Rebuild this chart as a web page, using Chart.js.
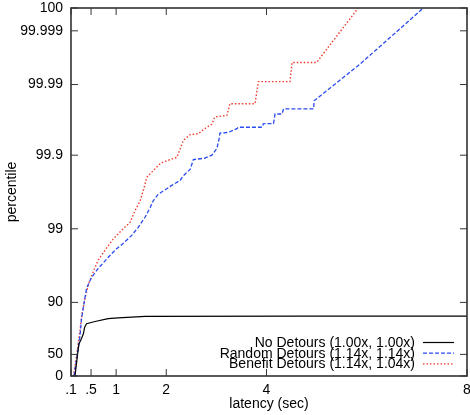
<!DOCTYPE html>
<html>
<head>
<meta charset="utf-8">
<script src="https://cdn.jsdelivr.net/npm/chart.js@4/dist/chart.umd.min.js"></script>
<style>
    html, body { margin: 0; padding: 0; background: #fff; }
    #wrap { width: 470px; height: 415px; }
</style>
</head>
<body>
<div id="wrap"><canvas id="myChart" width="470" height="415"></canvas></div>
<script>
// latency in seconds, percentile in "nines" position units
const noDetoursX = [0.18, 0.234, 0.26, 0.31, 0.35, 0.37, 0.41, 0.58, 0.84, 1.04, 1.58, 4.67, 8.0];
const noDetoursY = [0, 0.31, 0.44, 0.51, 0.58, 0.66, 0.71, 0.74, 0.78, 0.79, 0.81, 0.813, 0.814];

const randomX = [0.16, 0.23, 0.28, 0.31, 0.36, 0.41, 0.51, 0.64, 0.84, 1.01, 1.14, 1.31, 1.44, 1.58, 1.68, 1.74,
    1.84, 1.98, 2.11, 2.28, 2.34, 2.48, 2.54, 2.77, 2.91, 3.01, 3.06, 3.07, 3.24, 3.41, 3.44, 3.91, 3.94,
    4.14, 4.17, 4.31, 4.34, 4.94, 4.95, 5.87, 7.13];
const randomY = [0, 0.31, 0.55, 0.78, 0.99, 1.19, 1.34, 1.46, 1.61, 1.73, 1.80, 1.91, 2.02, 2.16, 2.29, 2.38,
    2.47, 2.53, 2.59, 2.66, 2.72, 2.81, 2.94, 2.96, 3.00, 3.09, 3.24, 3.30, 3.31, 3.36, 3.38, 3.38, 3.43,
    3.43, 3.56, 3.56, 3.63, 3.63, 3.74, 4.24, 5.0];

const benefitX = [0.15, 0.22, 0.25, 0.28, 0.31, 0.37, 0.45, 0.55, 0.64, 0.78, 0.94, 1.11, 1.28, 1.38, 1.48, 1.56,
    1.61, 1.71, 1.84, 1.91, 2.08, 2.21, 2.28, 2.34, 2.48, 2.64, 2.71, 2.81, 2.91, 2.97, 3.21, 3.27, 3.77,
    3.84, 4.47, 4.51, 5.00, 5.83];
const benefitY = [0, 0.32, 0.48, 0.62, 0.80, 1.03, 1.25, 1.43, 1.57, 1.71, 1.86, 1.98, 2.09, 2.25, 2.38, 2.56,
    2.70, 2.77, 2.86, 2.90, 2.94, 2.97, 3.09, 3.20, 3.28, 3.29, 3.33, 3.38, 3.42, 3.52, 3.54, 3.70, 3.70,
    4.00, 4.00, 4.26, 4.26, 5.0];

const xTickPos = [0.1, 0.5, 1, 2, 4, 8];
const xTickLabels = ['.1', '.5', '1', '2', '4', '8'];
const yTickPos = [0, 0.294, 1, 2, 3, 3.96, 4.69, 5];
const yTickLabels = ['0', '50', '90', '99', '99.9', '99.99', '99.999', '100'];

const toPoints = (xs, ys) => xs.map((x, i) => ({ x: x, y: ys[i] }));

const data = {
    datasets: [
        {
            label: 'No Detours (1.00x, 1.00x)',
            data: toPoints(noDetoursX, noDetoursY),
            borderColor: '#000000',
            borderWidth: 1.2,
            borderDash: [],
        },
        {
            label: 'Random Detours (1.14x, 1.14x)',
            data: toPoints(randomX, randomY),
            borderColor: '#2a4bf0',
            borderWidth: 1.3,
            borderDash: [4, 2],
        },
        {
            label: 'Benefit Detours (1.14x, 1.04x)',
            data: toPoints(benefitX, benefitY),
            borderColor: '#f03a2a',
            borderWidth: 1.4,
            borderDash: [1.5, 2],
        },
    ],
};

// box and inward ticks on all four sides
const frame = {
    id: 'frame',
    afterDraw(chart) {
        const ctx = chart.ctx;
        const a = chart.chartArea;
        const xs = chart.scales.x;
        const ys = chart.scales.y;
        ctx.save();
        ctx.strokeStyle = '#333';
        ctx.lineWidth = 1;
        xTickPos.forEach(v => {
            const px = xs.getPixelForValue(v);
            ctx.beginPath();
            ctx.moveTo(px, a.bottom); ctx.lineTo(px, a.bottom - 7);
            ctx.moveTo(px, a.top); ctx.lineTo(px, a.top + 7);
            ctx.stroke();
        });
        yTickPos.forEach(v => {
            const py = ys.getPixelForValue(v);
            ctx.beginPath();
            ctx.moveTo(a.left, py); ctx.lineTo(a.left + 7, py);
            ctx.moveTo(a.right, py); ctx.lineTo(a.right - 7, py);
            ctx.stroke();
        });
        ctx.lineWidth = 1.6;
        ctx.strokeRect(a.left, a.top, a.right - a.left, a.bottom - a.top);

        // key, bottom right inside the plot
        ctx.font = '14px "Liberation Sans", Arial, sans-serif';
        ctx.textAlign = 'right';
        ctx.textBaseline = 'middle';
        chart.data.datasets.forEach((ds, i) => {
            const y = 342.5 + i * 10.7;
            ctx.fillStyle = '#000';
            ctx.fillText(ds.label, 415, y + 0.5);
            ctx.strokeStyle = ds.borderColor;
            ctx.lineWidth = ds.borderWidth;
            ctx.setLineDash(ds.borderDash);
            ctx.beginPath();
            ctx.moveTo(423, y); ctx.lineTo(454, y);
            ctx.stroke();
            ctx.setLineDash([]);
        });
        ctx.restore();
    },
};

const font = { family: '"Liberation Sans", Arial, sans-serif', size: 14 };

const config = {
    type: 'line',
    data,
    options: {
        responsive: false,
        animation: false,
        layout: { padding: { top: 8, right: 3, left: 0, bottom: 0 } },
        elements: { point: { radius: 0 }, line: { tension: 0 } },
        plugins: { legend: { display: false }, tooltip: { enabled: false } },
        scales: {
            x: {
                type: 'linear',
                min: 0.1,
                max: 8,
                grid: { display: false, drawTicks: false },
                border: { display: false },
                afterBuildTicks: axis => { axis.ticks = xTickPos.map(v => ({ value: v })); },
                afterFit: axis => {
                    axis.height = 39;
                    axis.paddingLeft = 0;
                    axis.paddingRight = 0;
                },
                ticks: {
                    autoSkip: false,
                    maxRotation: 0,
                    padding: 6,
                    color: '#000',
                    font,
                    callback: (value, index) => xTickLabels[index],
                },
                title: { display: true, text: 'latency (sec)', color: '#000', font, padding: { top: 0, bottom: 2 } },
            },
            y: {
                type: 'linear',
                min: 0,
                max: 5,
                grid: { display: false, drawTicks: false },
                border: { display: false },
                afterBuildTicks: axis => { axis.ticks = yTickPos.map(v => ({ value: v })); },
                afterFit: axis => {
                    axis.width = 71;
                    axis.paddingTop = 0;
                    axis.paddingBottom = 0;
                },
                ticks: {
                    autoSkip: false,
                    padding: 8,
                    color: '#000',
                    font,
                    callback: (value, index) => yTickLabels[index],
                },
                title: { display: true, text: 'percentile', color: '#000', font, padding: { top: 4, bottom: 0 } },
            },
        },
    },
    plugins: [frame],
};

const myChart = new Chart(document.getElementById('myChart'), config);
</script>
</body>
</html>
